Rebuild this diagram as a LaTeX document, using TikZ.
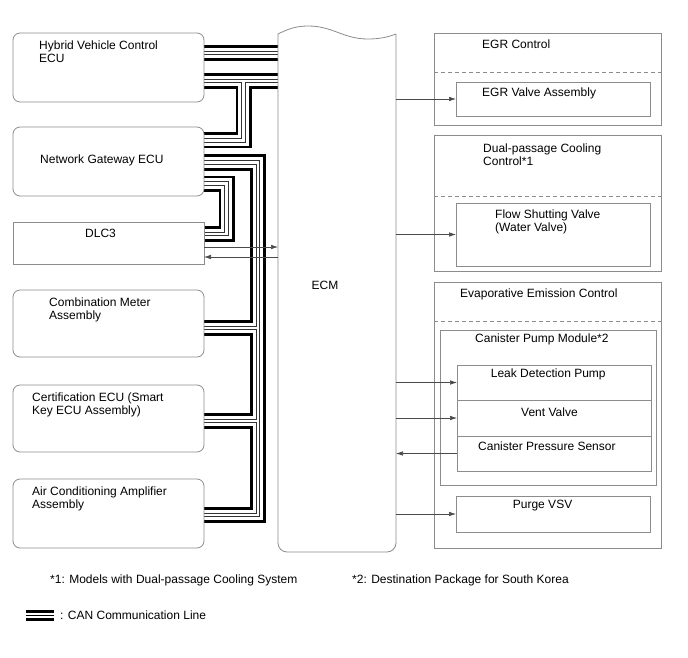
\documentclass[tikz,border=0pt]{standalone}
\usepackage{fontspec}
\setmainfont{Liberation Sans}
\usetikzlibrary{arrows.meta, positioning, backgrounds}
\definecolor{framegray}{HTML}{8C8C8C}
\definecolor{wiregray}{HTML}{4A4A4A}

\begin{document}
\begin{tikzpicture}[
    x=1pt, y=1pt,
    font=\fontsize{12}{13}\selectfont,
    ecu/.style={rectangle, rounded corners=7pt, draw=framegray, line width=0.8pt, minimum width=191pt, inner sep=0pt, outer sep=0pt},
    port/.style={rectangle, draw=framegray, line width=0.8pt, minimum width=191pt, inner sep=0pt, outer sep=0pt},
    panel/.style={rectangle, draw=framegray, line width=0.8pt, minimum width=227pt, inner sep=0pt, outer sep=0pt},
    part/.style={rectangle, draw=framegray, line width=0.8pt, minimum width=194pt, inner sep=0pt, outer sep=0pt},
    txt/.style={anchor=north west, inner sep=0pt, align=left},
    divider/.style={draw=framegray, line width=0.8pt, dash pattern=on 4pt off 3pt},
    signal/.style={-{Latex[length=7pt, width=4.5pt]}, draw=wiregray, line width=0.6pt}
]

\useasboundingbox (0,0) rectangle (688,-658);

% left column
\node[ecu, minimum height=69pt] (hv) at (108.5,-67.5) {};
\node[ecu, minimum height=69pt, below=25pt of hv] (gw) {};
\node[port, minimum height=42pt, below=26pt of gw] (dlc) {};
\node[ecu, minimum height=67pt, below=26pt of dlc] (meter) {};
\node[ecu, minimum height=67pt, below=28pt of meter] (cert) {};
\node[ecu, minimum height=69pt, below=27pt of cert] (aircon) {};

\node[txt] (hvtxt) at ([xshift=26pt, yshift=-7.7pt]hv.north west) {Hybrid Vehicle Control\\ECU};
\node[txt] (gwtxt) at ([xshift=27pt, yshift=-28pt]gw.north west) {Network Gateway ECU};
\node[txt] (dlctxt) at ([xshift=72pt, yshift=-7.3pt]dlc.north west) {DLC3};
\node[txt] (metertxt) at ([xshift=36pt, yshift=-8pt]meter.north west) {Combination Meter\\Assembly};
\node[txt] (certtxt) at ([xshift=19pt, yshift=-8pt]cert.north west) {Certification ECU (Smart\\Key ECU Assembly)};
\node[txt] (aircontxt) at ([xshift=19pt, yshift=-8pt]aircon.north west) {Air Conditioning Amplifier\\Assembly};

% ECM
\node[minimum width=118pt, minimum height=518pt, inner sep=0pt, outer sep=0pt] (ecm) at (337,-293) {};
\draw[draw=framegray, line width=0.8pt]
  (ecm.north east) -- ([yshift=9pt]ecm.south east) arc[start angle=0, end angle=-90, radius=9pt]
  -- ([xshift=9pt]ecm.south west) arc[start angle=270, end angle=180, radius=9pt]
  -- (ecm.north west) .. controls +(10,5) and +(-12,0) .. ++(30,8)
  .. controls +(25,0) and +(-25,0) .. ++(60,-13)
  .. controls +(12,0) and +(-8,-3) .. (ecm.north east);
\node[inner sep=0pt] (ecmtxt) at ([xshift=-12pt, yshift=8pt]ecm.center) {ECM};

% right column
\node[panel, minimum height=92pt] (egr) at (547.5,-79) {};
\node[panel, minimum height=136pt, below=10pt of egr] (dual) {};
\node[panel, minimum height=266pt, below=11pt of dual] (evap) {};

\draw[divider] ([yshift=-39pt]egr.north west) -- ([yshift=-39pt]egr.north east);
\draw[divider] ([yshift=-61pt]dual.north west) -- ([yshift=-61pt]dual.north east);
\draw[divider] ([yshift=-39pt]evap.north west) -- ([yshift=-39pt]evap.north east);

\node[part, minimum height=34pt, anchor=south east] (egrvalve) at ([xshift=-11pt, yshift=9pt]egr.south east) {};
\node[part, minimum height=63pt, anchor=south east] (flowvalve) at ([xshift=-11pt, yshift=5pt]dual.south east) {};
\node[part, minimum width=216pt, minimum height=155pt, anchor=north west] (pumpmod) at ([xshift=6pt, yshift=-48pt]evap.north west) {};
\node[part, minimum height=35pt, anchor=north west] (leak) at ([xshift=17pt, yshift=-35pt]pumpmod.north west) {};
\node[part, minimum height=36pt, below=0pt of leak] (vent) {};
\node[part, minimum height=35pt, below=0pt of vent] (sensor) {};
\node[part, minimum height=36pt, anchor=south east] (purge) at ([xshift=-11pt, yshift=16pt]evap.south east) {};

\node[txt] (egrtxt) at ([xshift=48pt, yshift=-7pt]egr.north west) {EGR Control};
\node[txt] (egrvalvetxt) at ([xshift=26pt, yshift=-6pt]egrvalve.north west) {EGR Valve Assembly};
\node[txt] (dualtxt) at ([xshift=49pt, yshift=-8.3pt]dual.north west) {Dual-passage Cooling\\Control*1};
\node[txt] (flowvalvetxt) at ([xshift=39pt, yshift=-6.3pt]flowvalve.north west) {Flow Shutting Valve\\(Water Valve)};
\node[txt] (evaptxt) at ([xshift=26pt, yshift=-6.3pt]evap.north west) {Evaporative Emission Control};
\node[txt] (pumpmodtxt) at ([xshift=35pt, yshift=-4pt]pumpmod.north west) {Canister Pump Module*2};
\node[txt] (leaktxt) at ([xshift=33.7pt, yshift=-3.7pt]leak.north west) {Leak Detection Pump};
\node[txt] (venttxt) at ([xshift=64pt, yshift=-7.3pt]vent.north west) {Vent Valve};
\node[txt] (sensortxt) at ([xshift=21pt, yshift=-5.7pt]sensor.north west) {Canister Pressure Sensor};
\node[txt] (purgetxt) at ([xshift=56.7pt, yshift=-4pt]purge.north west) {Purge VSV};

% signal lines
\coordinate (dlcin) at ([yshift=-4pt]dlc.east);
\coordinate (dlcout) at ([yshift=-14pt]dlc.east);
\draw[signal] (dlcin) -- (dlcin -| ecm.west);
\draw[signal] (dlcout -| ecm.west) -- (dlcout);
\draw[signal] (egrvalve.west -| ecm.east) -- (egrvalve.west);
\draw[signal] (flowvalve.west -| ecm.east) -- (flowvalve.west);
\draw[signal] (leak.west -| ecm.east) -- (leak.west);
\draw[signal] (vent.west -| ecm.east) -- (vent.west);
\draw[signal] (sensor.west) -- (sensor.west -| ecm.east);
\draw[signal] (purge.west -| ecm.east) -- (purge.west);

% CAN bus
\coordinate (busA) at (0,-53);
\coordinate (busB) at (0,-81);
\coordinate (gwtap) at (243.5,-81);
\coordinate (gwin) at ([yshift=-13.5pt]gw.north east);
\coordinate (gwtrunk) at ([yshift=-35.5pt]gw.north east);
\coordinate (gwloop) at ([yshift=-56.5pt]gw.north east);
\coordinate (trunkx) at ([xshift=54pt]gwtrunk);
\coordinate (meterin) at ([yshift=-4.5pt]meter.east);
\coordinate (certin) at ([yshift=-2.5pt]cert.east);
\coordinate (airconin) at ([yshift=-1.5pt]aircon.east);
\coordinate (dlcbus) at ([yshift=-12pt]dlc.north east);

\begin{scope}[on background layer]
\foreach \w/\c in {16/black, 10.6/white, 4.4/black!80, 2.8/white}
  \draw[line width=\w pt, draw=\c, line join=miter]
    (hv.east |- busA) -- (ecm.west |- busA)
    (hv.east |- busB) -- (ecm.west |- busB)
    (gwtap) |- (gwin)
    (gwtrunk) -- (trunkx) |- (airconin)
    (trunkx |- meterin) -- (meterin)
    (trunkx |- certin) -- (certin)
    (gwloop) -- ++(22.5,0) |- (dlcbus);
\end{scope}

% notes and legend
\node[txt] (note1) at (50,-575) {*1: Models with Dual-passage Cooling System};
\node[txt] (note2) at (352,-575) {*2: Destination Package for South Korea};

\coordinate (legend) at (26,-615.5);
\draw[line width=2.6pt] ([yshift=4pt]legend) -- ++(28,0);
\draw[line width=0.9pt] (legend) -- ++(28,0);
\draw[line width=2.6pt] ([yshift=-4pt]legend) -- ++(28,0);
\node[txt] (legendtxt) at (60,-611) {: CAN Communication Line};

\end{tikzpicture}
\end{document}
